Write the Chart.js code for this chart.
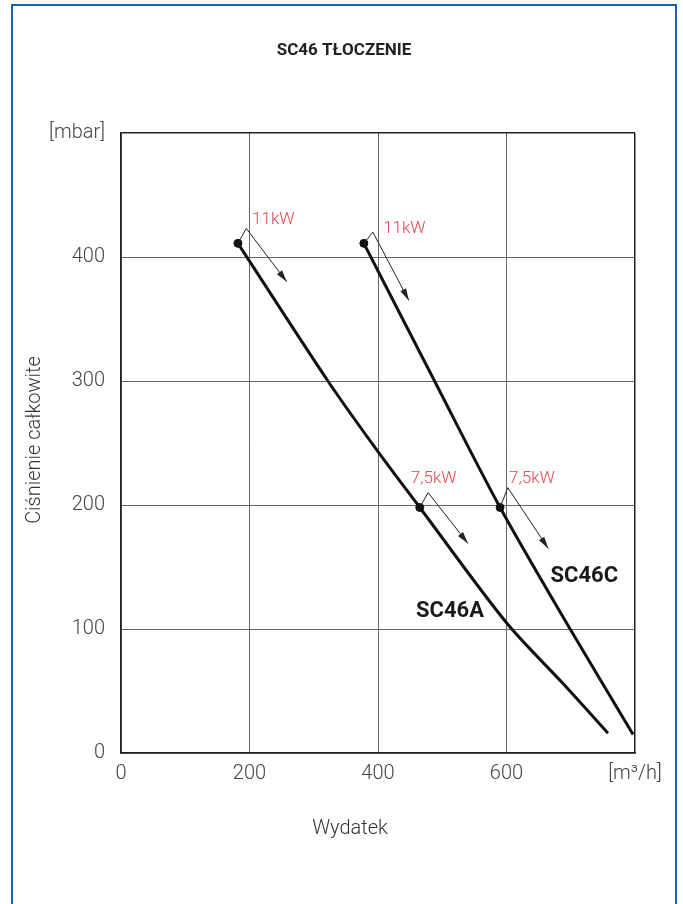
<!DOCTYPE html>
<html>
<head>
<meta charset="utf-8">
<script src="https://cdn.jsdelivr.net/npm/chart.js@4"></script>
<style>
  html, body { margin: 0; padding: 0; background: #fff; }
  #wrap { position: relative; width: 683px; height: 904px; overflow: hidden; }
  #frame { position: absolute; left: 11px; top: 4px; width: 666px; height: 920px;
           border: 2px solid #1c63ad; box-sizing: border-box; }
  canvas { position: absolute; left: 0; top: 0; }
</style>
</head>
<body>
<div id="wrap">
  <div id="frame"></div>
  <canvas id="chart" width="683" height="904"></canvas>
</div>
<script>
// ── Data ──────────────────────────────────────────────────────────────────────
const X_TICKS = [0, 200, 400, 600, 800];
const Y_TICKS = [0, 100, 200, 300, 400, 500];

const sc46aFlow     = [182, 322, 400, 465, 600, 688, 758];
const sc46aPressure = [411, 300, 243, 198, 105, 56, 16];

const sc46cFlow     = [378, 486, 590, 699, 797];
const sc46cPressure = [411, 302, 198, 100, 15];

// motor power markers: dot -> apex -> arrow tip
const powerLabels = ['11kW', '11kW', '7,5kW', '7,5kW'];
const powerDotX   = [182, 378, 465, 590];
const powerDotY   = [411, 411, 198, 198];
const powerApexX  = [195, 392, 478, 602];
const powerApexY  = [423, 420, 210, 214];
const powerTipX   = [258, 448, 540, 665];
const powerTipY   = [380, 365, 169, 165];
const powerTextX  = [204, 408, 451, 604];
const powerTextY  = [430, 423, 221, 221];

const seriesNames = ['SC46A', 'SC46C'];
const seriesTextX = [512, 721];
const seriesTextY = [114, 142];

// ── Helpers ───────────────────────────────────────────────────────────────────
const pts = (xs, ys) => xs.map((x, i) => ({ x, y: ys[i] }));
const FONT = 'Roboto, "DejaVu Sans", sans-serif';

const annotationSets = powerDotX.map((_, i) => ({
  type: 'line',
  data: [
    { x: powerDotX[i],  y: powerDotY[i] },
    { x: powerApexX[i], y: powerApexY[i] },
    { x: powerTipX[i],  y: powerTipY[i] },
  ],
  borderColor: '#222',
  borderWidth: 1,
  pointRadius: 0,
  tension: 0,
}));

// arrowheads, red labels, series names, titles
const overlayPlugin = {
  id: 'overlay',
  afterDatasetsDraw(chart) {
    const { ctx, scales: { x, y } } = chart;
    ctx.save();

    // arrowheads
    ctx.fillStyle = '#222';
    powerTipX.forEach((tx, i) => {
      const px = x.getPixelForValue(tx), py = y.getPixelForValue(powerTipY[i]);
      const ax = x.getPixelForValue(powerApexX[i]), ay = y.getPixelForValue(powerApexY[i]);
      const ang = Math.atan2(py - ay, px - ax);
      const len = 12, half = 3.2;
      ctx.beginPath();
      ctx.moveTo(px, py);
      ctx.lineTo(px - len * Math.cos(ang) + half * Math.sin(ang), py - len * Math.sin(ang) - half * Math.cos(ang));
      ctx.lineTo(px - len * Math.cos(ang) - half * Math.sin(ang), py - len * Math.sin(ang) + half * Math.cos(ang));
      ctx.closePath();
      ctx.fill();
    });

    // power labels
    ctx.fillStyle = '#e8454f';
    ctx.font = `300 17px ${FONT}`;
    ctx.textAlign = 'left';
    ctx.textBaseline = 'middle';
    powerLabels.forEach((t, i) => {
      ctx.fillText(t, x.getPixelForValue(powerTextX[i]), y.getPixelForValue(powerTextY[i]));
    });

    // series names
    ctx.fillStyle = '#1a1a1a';
    ctx.font = `bold 22px ${FONT}`;
    ctx.textAlign = 'center';
    seriesNames.forEach((t, i) => {
      ctx.fillText(t, x.getPixelForValue(seriesTextX[i]), y.getPixelForValue(seriesTextY[i]));
    });

    // chart title
    ctx.font = `bold 17px ${FONT}`;
    ctx.fillStyle = '#222';
    ctx.fillText('SC46 TŁOCZENIE', 344, 51);

    // axis titles
    ctx.font = `300 20px ${FONT}`;
    ctx.fillStyle = '#333';
    ctx.fillText('Wydatek', 350, 829);
    ctx.translate(35, 440);
    ctx.rotate(-Math.PI / 2);
    ctx.fillText('Ciśnienie całkowite', 0, 0);
    ctx.restore();
  },
};

// ── Chart ─────────────────────────────────────────────────────────────────────
new Chart(document.getElementById('chart'), {
  type: 'line',
  data: {
    datasets: [
      {
        data: pts(sc46aFlow, sc46aPressure),
        borderColor: '#111', borderWidth: 3,
        pointRadius: 0, tension: 0.3,
      },
      {
        data: pts(sc46cFlow, sc46cPressure),
        borderColor: '#111', borderWidth: 3,
        pointRadius: 0, tension: 0.3,
      },
      ...annotationSets,
      {
        type: 'scatter',
        data: pts(powerDotX, powerDotY),
        backgroundColor: '#111', borderColor: '#111',
        pointRadius: 4, pointHoverRadius: 4,
      },
    ],
  },
  options: {
    responsive: false,
    animation: false,
    events: [],
    layout: { padding: { left: 0, right: 48, top: 133, bottom: 0 } },
    plugins: { legend: { display: false }, tooltip: { enabled: false } },
    scales: {
      x: {
        type: 'linear', min: 0, max: 800,
        afterBuildTicks: s => { s.ticks = X_TICKS.map(v => ({ value: v })); },
        afterFit: s => { s.height = 151; },
        ticks: {
          color: '#444', font: { family: FONT, size: 20, weight: 300 }, padding: 9,
          maxRotation: 0, autoSkip: false,
          callback: v => (v === 800 ? '[m³/h]' : v),
        },
        grid: {
          drawTicks: false,
          color: c => (c.tick && c.tick.value === 800 ? '#222' : '#666'),
          lineWidth: c => (c.tick && c.tick.value === 800 ? 1.5 : 1),
        },
        border: { color: '#222', width: 1.5 },
      },
      y: {
        type: 'linear', min: 0, max: 500,
        afterBuildTicks: s => { s.ticks = Y_TICKS.map(v => ({ value: v })); },
        afterFit: s => { s.width = 121; },
        ticks: {
          color: '#444', font: { family: FONT, size: 20, weight: 300 }, padding: 16,
          autoSkip: false,
          callback: v => (v === 500 ? '[mbar]' : v),
        },
        grid: {
          drawTicks: false,
          color: c => (c.tick && c.tick.value === 500 ? '#222' : '#666'),
          lineWidth: c => (c.tick && c.tick.value === 500 ? 1.5 : 1),
        },
        border: { color: '#222', width: 1.5 },
      },
    },
  },
  plugins: [overlayPlugin],
});
</script>
</body>
</html>
